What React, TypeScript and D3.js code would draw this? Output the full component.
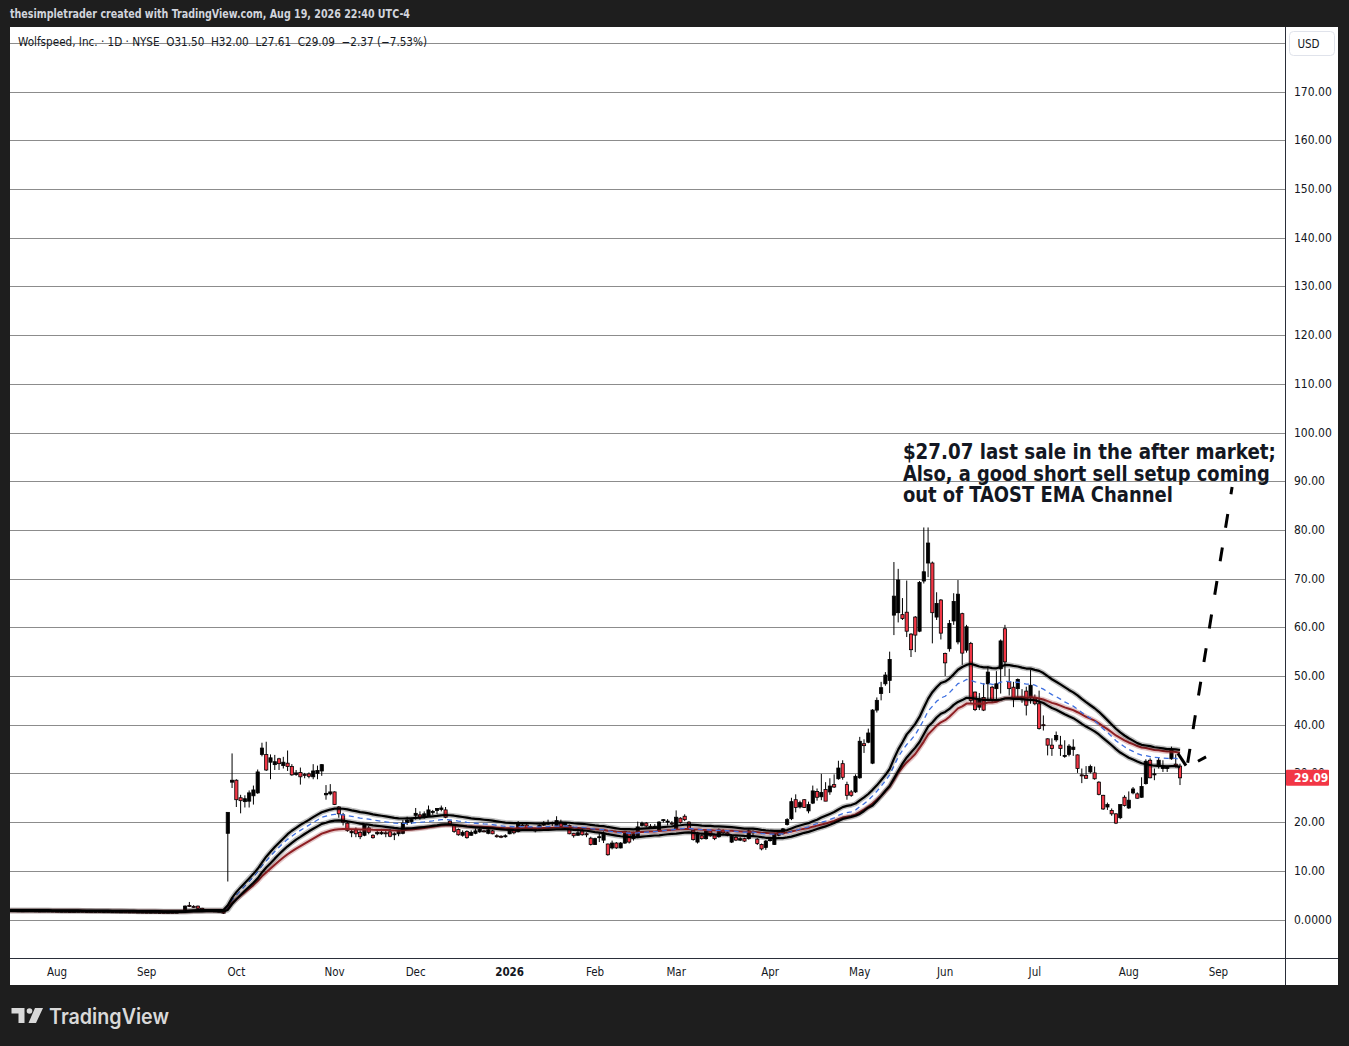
import React, { useEffect, useRef } from 'react';
import * as d3 from 'd3';

// open, high, low, close
type Bar = [number, number, number, number];

const jul25: Bar[] = [
  [1.85, 1.95, 1.78, 1.82], [1.82, 1.9, 1.75, 1.8], [1.8, 1.88, 1.74, 1.78], [1.78, 1.84, 1.7, 1.76],
  [1.76, 1.86, 1.72, 1.8], [1.8, 1.86, 1.74, 1.77], [1.77, 1.82, 1.7, 1.74], [1.74, 1.8, 1.68, 1.72],
  [1.72, 1.78, 1.66, 1.75], [1.75, 1.8, 1.7, 1.73], [1.73, 1.78, 1.68, 1.7],
];
const aug25: Bar[] = [
  [1.7, 1.76, 1.64, 1.68], [1.68, 1.74, 1.63, 1.71], [1.71, 1.75, 1.65, 1.67], [1.67, 1.72, 1.62, 1.65],
  [1.65, 1.7, 1.6, 1.68], [1.68, 1.74, 1.64, 1.7], [1.7, 1.73, 1.63, 1.64], [1.64, 1.69, 1.6, 1.66],
  [1.66, 1.7, 1.61, 1.62], [1.62, 1.68, 1.58, 1.65], [1.65, 1.69, 1.6, 1.61], [1.61, 1.66, 1.57, 1.63],
  [1.63, 1.67, 1.58, 1.59], [1.59, 1.64, 1.55, 1.6], [1.6, 1.63, 1.54, 1.56], [1.56, 1.61, 1.52, 1.58],
  [1.58, 1.62, 1.53, 1.55], [1.55, 1.6, 1.5, 1.56], [1.56, 1.6, 1.51, 1.53], [1.53, 1.57, 1.48, 1.52],
  [1.52, 1.56, 1.47, 1.5],
];
const sep25: Bar[] = [
  [1.5, 1.55, 1.45, 1.48], [1.48, 1.53, 1.44, 1.5], [1.5, 1.54, 1.45, 1.46], [1.46, 1.5, 1.42, 1.47],
  [1.47, 1.52, 1.43, 1.45], [1.45, 1.5, 1.41, 1.48], [1.48, 1.53, 1.44, 1.46], [1.46, 1.52, 1.43, 1.5],
  [1.5, 1.75, 1.48, 1.7], [1.7, 2.9, 1.65, 2.75], [2.9, 3.6, 2.55, 2.7], [2.7, 2.95, 2.4, 2.6],
  [2.75, 2.85, 2.2, 2.3], [2.3, 2.4, 1.9, 2.0], [2.0, 2.1, 1.8, 1.85], [1.85, 1.95, 1.72, 1.78],
  [1.78, 1.86, 1.68, 1.72], [1.72, 1.8, 1.6, 1.65], [1.6, 1.68, 1.15, 1.3], [17.7, 22.0, 7.8, 22.0],
  [28.2, 34.1, 27.0, 28.6],
];
const oct25: Bar[] = [
  [28.6, 28.8, 23.1, 24.6], [25.0, 25.6, 21.8, 24.4], [24.2, 25.5, 23.0, 24.8], [24.3, 26.5, 23.0, 26.0],
  [25.4, 27.5, 23.6, 26.6], [26.0, 30.8, 25.8, 30.3], [33.9, 36.3, 33.5, 35.2], [33.9, 36.5, 30.5, 30.7],
  [32.3, 33.9, 28.8, 33.2], [31.8, 33.8, 30.7, 32.4], [33.0, 33.2, 30.7, 32.0], [31.6, 33.4, 31.0, 32.3],
  [32.1, 34.7, 30.5, 31.4], [31.4, 31.9, 29.5, 29.7], [29.8, 30.7, 29.5, 30.1], [30.2, 31.2, 27.7, 29.3],
  [29.8, 30.1, 29.0, 29.6], [29.9, 30.2, 29.0, 29.4], [29.3, 31.9, 28.8, 30.5], [30.0, 31.6, 28.8, 30.6],
  [30.5, 31.9, 29.5, 31.8], [25.6, 27.6, 24.6, 25.9], [25.8, 27.8, 25.5, 26.2],
];
const nov25: Bar[] = [
  [26.2, 26.3, 23.5, 23.6], [23.1, 23.3, 20.9, 21.7], [21.5, 21.9, 19.3, 20.0], [19.8, 20.2, 18.0, 18.3],
  [17.8, 18.6, 16.9, 18.1], [18.4, 18.9, 16.9, 17.6], [17.9, 18.3, 16.5, 17.0], [17.3, 19.6, 17.1, 19.4],
  [18.8, 19.2, 17.5, 17.9], [17.3, 17.5, 16.6, 16.8], [17.6, 18.5, 17.3, 17.9], [17.6, 18.6, 17.4, 17.9],
  [17.8, 18.4, 16.9, 17.7], [18.0, 18.6, 16.9, 17.1], [17.4, 17.9, 16.3, 17.6], [17.6, 18.4, 17.1, 18.1],
  [17.7, 20.4, 17.5, 19.8], [19.9, 21.1, 19.4, 20.4], [20.1, 20.9, 19.6, 20.5],
];
const dec25: Bar[] = [
  [21.4, 22.9, 20.5, 21.8], [21.5, 22.2, 20.5, 20.9], [20.9, 22.2, 20.7, 21.7], [21.2, 23.4, 21.1, 22.5],
  [22.0, 22.5, 21.5, 22.2], [22.4, 22.9, 21.6, 22.8], [22.6, 23.4, 22.2, 22.9], [22.5, 23.1, 20.8, 21.0],
  [20.2, 20.4, 19.4, 19.6], [19.3, 19.5, 17.8, 18.1], [18.5, 18.7, 17.2, 17.4], [17.3, 18.3, 17.0, 17.9],
  [18.1, 18.3, 16.6, 16.8], [17.3, 18.3, 17.2, 17.9], [17.7, 18.7, 17.5, 18.2], [18.0, 18.9, 17.8, 18.5],
  [18.2, 18.4, 17.9, 18.0], [17.7, 18.6, 17.5, 18.4], [18.2, 18.4, 17.5, 17.6], [17.2, 17.5, 16.8, 17.1],
  [17.1, 17.3, 16.7, 17.0], [17.0, 17.5, 16.8, 17.2],
];
const jan26: Bar[] = [
  [17.6, 18.7, 17.5, 18.6], [18.6, 18.7, 17.5, 17.8], [18.1, 20.2, 17.9, 19.6], [19.4, 19.8, 19.0, 19.3],
  [19.4, 19.6, 18.3, 18.5], [18.9, 19.1, 18.3, 18.5], [18.2, 18.7, 17.9, 18.5], [18.5, 19.5, 18.4, 19.3],
  [19.4, 20.2, 19.2, 19.6], [19.6, 20.5, 19.4, 19.8], [19.7, 20.1, 19.2, 19.9], [19.3, 21.2, 19.1, 20.3],
  [20.0, 20.5, 18.9, 19.1], [19.4, 20.0, 19.2, 19.8], [19.3, 19.5, 17.5, 17.6], [17.7, 17.8, 16.8, 17.2],
  [17.3, 18.4, 17.2, 17.8], [18.2, 18.7, 17.2, 17.4], [17.6, 17.9, 16.9, 17.5], [16.7, 17.0, 15.2, 15.4],
];
const feb26: Bar[] = [
  [15.4, 16.8, 15.3, 16.6], [16.9, 17.7, 15.9, 17.0], [16.3, 18.1, 15.7, 17.5], [15.5, 15.6, 13.1, 13.3],
  [14.7, 16.2, 14.4, 15.7], [15.7, 15.9, 14.5, 14.7], [14.7, 15.9, 14.6, 15.7], [15.7, 18.2, 15.5, 18.1],
  [17.8, 18.1, 15.6, 15.9], [16.6, 18.0, 16.2, 17.6], [16.9, 20.1, 16.7, 19.0], [19.3, 20.1, 19.1, 19.8],
  [19.8, 20.0, 18.9, 19.2], [19.1, 19.6, 18.6, 19.0], [19.0, 19.6, 18.6, 19.1], [18.3, 20.2, 18.0, 20.0],
  [20.3, 20.6, 19.9, 20.5], [20.1, 20.6, 19.3, 20.2], [19.8, 20.2, 19.3, 19.7],
];
const mar26: Bar[] = [
  [18.6, 22.4, 18.5, 21.0], [20.8, 21.0, 19.7, 19.9], [21.2, 21.6, 20.2, 20.5], [20.0, 20.2, 18.4, 18.6],
  [18.3, 18.5, 16.2, 16.4], [15.9, 18.0, 15.6, 17.8], [17.2, 17.5, 16.4, 16.6], [16.6, 18.5, 16.4, 18.2],
  [18.2, 18.5, 17.0, 17.2], [17.4, 17.6, 16.3, 16.6], [17.0, 18.7, 16.8, 18.4], [18.2, 18.5, 17.5, 17.8],
  [17.8, 18.1, 17.1, 17.3], [15.9, 17.4, 15.7, 17.1], [16.9, 17.1, 16.1, 16.3], [16.3, 16.9, 16.1, 16.6],
  [16.6, 16.8, 15.9, 16.1], [16.6, 18.5, 16.4, 18.2], [17.8, 18.3, 17.3, 18.1], [16.5, 16.7, 15.3, 15.6],
  [15.4, 15.6, 14.2, 14.5], [14.8, 16.3, 14.3, 16.1],
];
const apr26: Bar[] = [
  [16.2, 16.8, 16.0, 16.4], [15.4, 17.8, 15.3, 17.6], [17.3, 18.3, 17.1, 18.1], [17.6, 18.8, 17.4, 18.6],
  [19.5, 20.8, 19.3, 20.5], [20.7, 25.0, 20.4, 24.2], [24.6, 25.7, 22.0, 23.0], [23.1, 24.4, 22.8, 24.0],
  [24.6, 24.7, 22.9, 23.0], [22.3, 24.2, 21.8, 23.6], [23.9, 27.5, 23.7, 26.4], [26.3, 26.9, 24.4, 25.1],
  [25.2, 29.9, 24.5, 26.1], [26.7, 28.2, 24.3, 24.3], [26.2, 29.0, 25.6, 27.4], [27.7, 29.8, 27.0, 27.2],
  [28.9, 32.6, 28.7, 31.1], [32.0, 32.7, 28.7, 29.2], [27.7, 28.3, 24.6, 25.5], [26.2, 26.6, 25.2, 25.5],
  [26.2, 29.8, 26.0, 29.4],
];
const may26: Bar[] = [
  [29.1, 37.5, 28.9, 36.6], [36.1, 37.0, 34.2, 35.7], [36.4, 39.2, 36.2, 38.3], [32.1, 43.2, 31.9, 43.0],
  [43.0, 45.6, 42.5, 45.0], [46.4, 48.8, 45.0, 47.6], [48.4, 50.8, 48.0, 50.2], [49.1, 55.0, 46.5, 53.4],
  [62.5, 73.4, 58.4, 66.4], [63.0, 72.0, 61.0, 69.7], [62.6, 66.0, 61.5, 61.8], [63.1, 69.6, 58.0, 59.2],
  [58.6, 58.8, 53.9, 55.4], [62.1, 62.3, 54.9, 58.4], [59.2, 69.5, 59.0, 69.2], [69.5, 80.5, 69.0, 71.4],
  [73.2, 80.5, 70.3, 77.3], [73.2, 73.5, 56.7, 63.0], [62.1, 67.2, 61.5, 64.9], [65.6, 65.8, 57.5, 58.8],
];
const jun26: Bar[] = [
  [54.6, 54.8, 50.0, 52.7], [55.6, 61.5, 55.0, 60.8], [61.3, 67.0, 60.5, 65.3], [57.0, 69.7, 56.5, 66.8],
  [62.8, 63.0, 52.3, 54.7], [55.3, 60.5, 54.8, 60.1], [56.7, 57.0, 44.5, 45.0], [46.7, 46.8, 42.8, 43.1],
  [43.6, 46.5, 43.0, 45.3], [45.6, 48.5, 42.8, 43.0], [48.4, 52.0, 45.0, 50.8], [47.7, 48.0, 44.5, 45.0],
  [47.4, 51.0, 45.0, 48.4], [51.5, 57.5, 46.4, 57.2], [59.7, 60.5, 50.0, 52.9], [48.8, 51.5, 46.0, 47.4],
  [47.7, 48.8, 43.6, 45.6], [47.4, 49.5, 45.4, 49.3], [45.7, 47.3, 44.5, 45.1], [46.9, 47.8, 41.9, 44.0],
  [45.6, 51.3, 44.3, 48.1],
];
const jul26: Bar[] = [
  [45.6, 46.2, 44.0, 44.3], [44.3, 47.0, 39.0, 39.2], [40.0, 41.9, 38.8, 39.8], [37.1, 37.2, 33.7, 35.8],
  [35.8, 37.2, 33.6, 35.1], [36.9, 38.6, 36.5, 37.8], [35.8, 37.7, 33.6, 35.1], [33.5, 36.8, 33.2, 33.7],
  [33.9, 36.0, 33.5, 35.6], [34.9, 37.0, 33.6, 35.4], [33.8, 33.9, 30.1, 31.0], [29.7, 31.0, 28.0, 29.6],
  [29.6, 31.5, 28.9, 29.0], [30.3, 31.8, 30.0, 31.4], [30.1, 31.4, 28.7, 28.9], [28.2, 28.4, 25.5, 25.7],
  [25.5, 25.6, 22.5, 22.7], [23.1, 24.0, 22.5, 23.6], [22.4, 22.8, 21.3, 21.7], [21.7, 21.8, 19.6, 19.8],
  [20.9, 23.6, 20.6, 23.6], [25.1, 25.5, 23.2, 23.4],
];
const aug26: Bar[] = [
  [22.9, 26.3, 22.7, 24.5], [26.0, 27.2, 25.7, 26.8], [25.8, 26.1, 24.8, 24.9], [25.1, 29.2, 25.0, 27.3],
  [27.9, 32.9, 27.7, 32.5], [32.7, 33.1, 29.0, 29.1], [29.8, 31.0, 28.6, 29.9], [31.4, 33.2, 31.0, 32.7],
  [31.0, 32.7, 30.3, 31.3], [31.0, 31.6, 30.3, 31.4], [33.0, 35.5, 32.8, 34.9], [31.9, 33.9, 31.2, 31.46],
  [31.5, 32.0, 27.61, 29.09],
];

const monthBars = [jul25, aug25, sep25, oct25, nov25, dec25, jan26, feb26, mar26, apr26, may26, jun26, jul26, aug26];
const monthLabels = ['Jul', 'Aug', 'Sep', 'Oct', 'Nov', 'Dec', '2026', 'Feb', 'Mar', 'Apr', 'May', 'Jun', 'Jul', 'Aug'];
const nextMonthLabel = 'Sep';
const sessionsToNextMonth = 9;

const priceTicks = [0, 10, 20, 30, 40, 50, 60, 70, 80, 90, 100, 110, 120, 130, 140, 150, 160, 170, 180];
const priceTickLabels = ['0.0000', '10.00', '20.00', '30.00', '40.00', '50.00', '60.00', '70.00', '80.00', '90.00',
  '100.00', '110.00', '120.00', '130.00', '140.00', '150.00', '160.00', '170.00', '180.00'];

const channelLength = 40;
const slowLength = 55;

const noteLines = ['$27.07 last sale in the after market;', 'Also, a good short sell setup coming', 'out of TAOST EMA Channel'];
const noteWidths = [373, 367, 270];
// bar index / price anchors of the hand drawing
const noteAnchor: [number, number] = [198.1, 94.5];
const solidLeg: [number, number][] = [[262.5, 34.1], [264.4, 31.6]];
const dashedLeg: [number, number][] = [[264.8, 32.2], [275.2, 88.8]];
const shortDash: [number, number][] = [[267.2, 32.5], [269.1, 33.4]];

const ui = "'DejaVu Sans Condensed', 'DejaVu Sans', sans-serif";

function ema(values: number[], length: number) {
  const k = 2 / (length + 1);
  let prev = values[0];
  return values.map((v, i) => (i === 0 ? prev : (prev = v * k + prev * (1 - k))));
}

export default function App() {
  const svgRef = useRef<SVGSVGElement>(null);

  useEffect(() => {
    if (!svgRef.current) return;
    const svg = d3.select(svgRef.current);
    svg.selectAll('*').remove();

    const W = 1349, H = 1046;
    const plot = { left: 10, right: 1285, top: 27, bottom: 958 };

    const bars = monthBars.flat();
    const first = -jul25.length;
    const idx = bars.map((_, i) => first + i);

    const x = d3.scaleLinear().domain([first, 263]).range([57 + 4.27 * first, 57 + 4.27 * 263]);
    const y = d3.scaleLinear().domain([0, 170]).range([919.5, 91.6]);

    svg.append('rect').attr('width', W).attr('height', H).attr('fill', '#1e1e1e');
    svg.append('text').attr('x', 10).attr('y', 18).attr('fill', '#d1d4dc')
      .attr('font-family', ui).attr('font-size', 12).attr('font-weight', 'bold')
      .attr('textLength', 400).attr('lengthAdjust', 'spacingAndGlyphs')
      .text('thesimpletrader created with TradingView.com, Aug 19, 2026 22:40 UTC-4');

    svg.append('rect').attr('x', 10).attr('y', 27).attr('width', 1328).attr('height', 958).attr('fill', '#ffffff');

    svg.append('clipPath').attr('id', 'plot-clip').append('rect')
      .attr('x', plot.left).attr('y', plot.top)
      .attr('width', plot.right - plot.left).attr('height', plot.bottom - plot.top);

    // grid
    svg.append('g').selectAll('line').data(priceTicks).enter().append('line')
      .attr('x1', plot.left).attr('x2', plot.right)
      .attr('y1', (d) => Math.round(y(d)) + 0.5).attr('y2', (d) => Math.round(y(d)) + 0.5)
      .attr('stroke', '#8c8c8c').attr('stroke-width', 1);

    const g = svg.append('g').attr('clip-path', 'url(#plot-clip)');

    // candles
    const bw = 3.2;
    const candles = g.append('g').selectAll('g').data(bars).enter().append('g');
    candles.append('line')
      .attr('x1', (_, i) => x(idx[i])).attr('x2', (_, i) => x(idx[i]))
      .attr('y1', (d) => y(d[1])).attr('y2', (d) => y(d[2]))
      .attr('stroke', '#000').attr('stroke-width', 1);
    candles.append('rect')
      .attr('x', (_, i) => x(idx[i]) - bw / 2)
      .attr('y', (d) => y(Math.max(d[0], d[3])))
      .attr('width', bw)
      .attr('height', (d) => Math.max(1, Math.abs(y(d[0]) - y(d[3]))))
      .attr('fill', (d) => (d[3] >= d[0] ? '#000' : '#f23645'))
      .attr('stroke', '#000').attr('stroke-width', 0.8);

    // TAOST EMA channel
    const highs = ema(bars.map((d) => d[1]), channelLength);
    const lows = ema(bars.map((d) => d[2]), channelLength);
    const mids = ema(bars.map((d) => d[3]), channelLength);
    const slow = ema(bars.map((d) => d[3]), slowLength);
    const line = d3.line<number>().x((_, i) => x(idx[i])).y((v) => y(v));

    const drawHalo = (vals: number[], color: string, halo: string, width: number) => {
      g.append('path').attr('d', line(vals)).attr('fill', 'none')
        .attr('stroke', halo).attr('stroke-width', width + 3).attr('stroke-linejoin', 'round');
      g.append('path').attr('d', line(vals)).attr('fill', 'none')
        .attr('stroke', color).attr('stroke-width', width).attr('stroke-linejoin', 'round');
    };
    drawHalo(slow, '#8e1f23', 'rgba(142,31,35,0.25)', 2);
    g.append('path').attr('d', line(mids)).attr('fill', 'none')
      .attr('stroke', '#3d6fe0').attr('stroke-width', 1.3).attr('stroke-dasharray', '5 4');
    drawHalo(highs, '#000', 'rgba(0,0,0,0.25)', 2.2);
    drawHalo(lows, '#000', 'rgba(0,0,0,0.25)', 2.2);

    // drawing: arrow path
    const pt = (p: [number, number]) => [x(p[0]), y(p[1])];
    const seg = (pts: [number, number][], dash?: string) => {
      const [a, b] = pts.map(pt);
      const l = g.append('line').attr('x1', a[0]).attr('y1', a[1]).attr('x2', b[0]).attr('y2', b[1])
        .attr('stroke', '#000').attr('stroke-width', 3);
      if (dash) l.attr('stroke-dasharray', dash);
    };
    seg(solidLeg);
    seg(dashedLeg, '14 20');
    seg(shortDash);

    const note = svg.append('g');
    noteLines.forEach((t, i) => {
      note.append('text').attr('x', x(noteAnchor[0])).attr('y', y(noteAnchor[1]) + i * 21.3)
        .attr('fill', '#131722').attr('font-family', ui).attr('font-weight', 'bold').attr('font-size', 21.5)
        .attr('textLength', noteWidths[i]).attr('lengthAdjust', 'spacingAndGlyphs')
        .text(t);
    });

    // legend
    const last = bars[bars.length - 1];
    const prevClose = bars[bars.length - 2][3];
    const chg = last[3] - prevClose;
    const fmt = (v: number) => v.toFixed(2);
    const sign = (v: number) => (v < 0 ? '\u2212' + fmt(-v) : '+' + fmt(v));
    svg.append('text').attr('x', 18).attr('y', 45.5).attr('fill', '#131722')
      .attr('font-family', ui).attr('font-size', 11.5).attr('xml:space', 'preserve')
      .attr('textLength', 409).attr('lengthAdjust', 'spacingAndGlyphs')
      .text(`Wolfspeed, Inc. \u00b7 1D \u00b7 NYSE  O${fmt(last[0])}  H${fmt(last[1])}  L${fmt(last[2])}  C${fmt(last[3])}  ${sign(chg)} (${sign((chg / prevClose) * 100)}%)`);

    // axes frame
    svg.append('line').attr('x1', 1285.5).attr('x2', 1285.5).attr('y1', 27).attr('y2', 985)
      .attr('stroke', '#2a2e39').attr('stroke-width', 1);
    svg.append('line').attr('x1', 10).attr('x2', 1338).attr('y1', 958.5).attr('y2', 958.5)
      .attr('stroke', '#2a2e39').attr('stroke-width', 1);

    // price axis
    const ly = y(last[3]);
    svg.append('clipPath').attr('id', 'axis-clip').append('rect')
      .attr('x', 1286).attr('y', 60).attr('width', 52).attr('height', ly - 8 - 60);
    svg.append('clipPath').attr('id', 'axis-clip-low').append('rect')
      .attr('x', 1286).attr('y', ly + 8).attr('width', 52).attr('height', plot.bottom - ly - 8);
    const ticks = svg.append('g');
    priceTicks.forEach((p, i) => {
      if (y(p) < 60 || y(p) > plot.bottom) return;
      ticks.append('text').attr('x', 1294).attr('y', y(p) + 4).attr('fill', '#131722')
        .attr('clip-path', y(p) < ly ? 'url(#axis-clip)' : 'url(#axis-clip-low)')
        .attr('font-family', ui).attr('font-size', 12).text(priceTickLabels[i]);
    });
    svg.append('rect').attr('x', 1289.5).attr('y', 31.5).attr('width', 45).attr('height', 24).attr('rx', 4)
      .attr('fill', '#fff').attr('stroke', '#e0e3eb');
    svg.append('text').attr('x', 1308.5).attr('y', 48).attr('text-anchor', 'middle').attr('fill', '#131722')
      .attr('font-family', ui).attr('font-size', 11.5).text('USD');
    svg.append('rect').attr('x', 1286).attr('y', ly - 8).attr('width', 43).attr('height', 16)
      .attr('fill', '#f23645').attr('rx', 1);
    svg.append('text').attr('x', 1294).attr('y', ly + 4.5).attr('fill', '#fff')
      .attr('font-family', ui).attr('font-size', 12).attr('font-weight', 'bold').text(fmt(last[3]));

    // time axis
    let start = first;
    const tAxis = svg.append('g');
    monthBars.forEach((m, k) => {
      if (k > 0) {
        tAxis.append('text').attr('x', x(start)).attr('y', 975.5).attr('text-anchor', 'middle')
          .attr('fill', '#131722').attr('font-family', ui).attr('font-size', 11.5)
          .attr('font-weight', monthLabels[k] === '2026' ? 'bold' : 'normal')
          .text(monthLabels[k]);
      }
      start += m.length;
    });
    tAxis.append('text').attr('x', x(start - 1 + sessionsToNextMonth)).attr('y', 975.5).attr('text-anchor', 'middle')
      .attr('fill', '#131722').attr('font-family', ui).attr('font-size', 11.5).text(nextMonthLabel);

    // footer logo
    const logo = svg.append('g').attr('fill', '#d9d9d9');
    logo.append('path').attr('d', 'M11.5,1008 H24.5 V1023 H18.5 V1013.5 H11.5 Z');
    logo.append('circle').attr('cx', 29.5).attr('cy', 1011).attr('r', 2.8);
    logo.append('path').attr('d', 'M35,1008 H43 L36,1023 H28.5 Z');
    logo.append('text').attr('x', 49).attr('y', 1023.5).attr('font-family', "Inter, 'Noto Sans', sans-serif")
      .attr('font-weight', 600).attr('font-size', 21)
      .attr('textLength', 120).attr('lengthAdjust', 'spacingAndGlyphs').text('TradingView');
  }, []);

  return (
    <svg ref={svgRef} width={1349} height={1046}
      style={{ position: 'absolute', left: 0, top: 0, display: 'block' }} />
  );
}
